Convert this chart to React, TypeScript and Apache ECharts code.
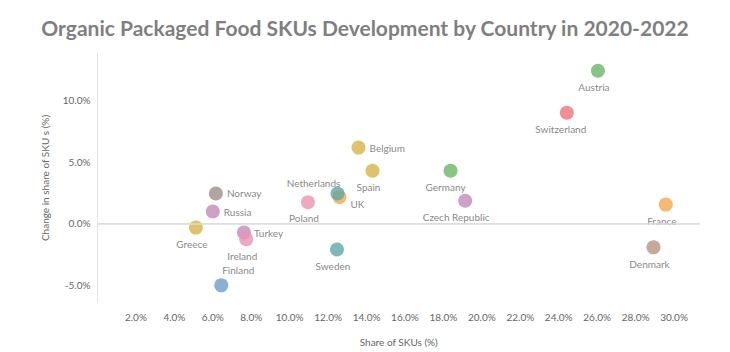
import React, { useEffect, useRef } from "react";
import * as echarts from "echarts";

const countries = ["Austria","Switzerland","Belgium","Spain","Germany","Czech Republic","France","Denmark","Norway","Russia","Greece","Turkey","Ireland","Finland","Poland","UK","Netherlands","Sweden"];
const shareOfSkus = [26.04,24.42,13.58,14.31,18.37,19.13,29.57,28.93,6.16,6.0,5.12,7.62,7.74,6.44,10.95,12.59,12.49,12.46];
const changeInShare = [12.36,8.96,6.14,4.26,4.26,1.83,1.52,-1.94,2.42,0.96,-0.34,-0.74,-1.28,-5.02,1.71,2.13,2.42,-2.12];
const colors = ["#69b863","#f07375","#d8b444","#d8b444","#69b863","#c48ab8","#f8a64f","#b89380","#9b8e8b","#c48ab8","#d8b444","#c48ab8","#ec92b2","#6d9dc9","#ec92b2","#f8a64f","#5ea9a2","#5ea9a2"];
const labelPlacement: any[] = [
  { position: "bottom", distance: 4, offset: [-4, 0] },
  { position: "bottom", distance: 4, offset: [-6, 0] },
  { position: "right", distance: 4, offset: [0, 0] },
  { position: "bottom", distance: 4, offset: [-4, 0] },
  { position: "bottom", distance: 4, offset: [-5, 0] },
  { position: "bottom", distance: 4, offset: [-9, 0] },
  { position: "bottom", distance: 4, offset: [-4, 0] },
  { position: "bottom", distance: 4, offset: [-4, 1] },
  { position: "right", distance: 4, offset: [0, 0] },
  { position: "right", distance: 4, offset: [0, 0] },
  { position: "bottom", distance: 4, offset: [-4, 0] },
  { position: "right", distance: 3, offset: [0, 0] },
  { position: "bottom", distance: 4, offset: [-4, 1] },
  { position: "top", distance: 3, offset: [17, 0] },
  { position: "bottom", distance: 4, offset: [-4, 0] },
  { position: "right", distance: 4, offset: [0, 7] },
  { position: "top", distance: 0, offset: [-24, 2] },
  { position: "bottom", distance: 4, offset: [-4, 0] },
];
const yTicks = [-5, 0, 5, 10];

export default function App() {
  const ref = useRef<HTMLDivElement>(null);
  useEffect(() => {
    const chart = echarts.init(ref.current!, null, { renderer: "svg" });
    const font = "Lato";
    const data = countries.map((c, i) => ({
      name: c,
      value: [shareOfSkus[i], changeInShare[i]],
      itemStyle: { color: colors[i] },
      label: { show: true, formatter: c, ...labelPlacement[i] },
    }));
    chart.setOption({
      animation: false,
      title: {
        text: "Organic Packaged Food SKUs Development by Country in 2020-2022",
        left: "center",
        top: 12,
        textStyle: { fontFamily: font, fontWeight: "bold", fontSize: 21, color: "#7f7f7f" },
      },
      grid: { left: 97.5, right: 30, top: 53, bottom: 45 },
      xAxis: {
        type: "value",
        min: 0,
        max: 31.35,
        interval: 2,
        name: "Share of SKUs (%)",
        nameLocation: "middle",
        nameGap: 34,
        nameTextStyle: { fontFamily: font, fontSize: 10, color: "#666" },
        axisLine: { show: true, lineStyle: { color: "#e4e4e4" } },
        axisTick: { show: false },
        splitLine: { show: false },
        axisLabel: {
          fontFamily: font,
          fontSize: 10,
          color: "#666",
          margin: 9,
          formatter: (v: number) => (v > 0 && Math.abs(v % 2) < 1e-6 ? v.toFixed(1) + "%" : ""),
        },
      },
      yAxis: {
        type: "value",
        min: -6.45,
        max: 13.8,
        name: "Change in share of SKU s (%)",
        nameLocation: "middle",
        nameRotate: 90,
        nameGap: 48,
        nameTextStyle: { fontFamily: font, fontSize: 10, color: "#666" },
        axisLine: { show: true, lineStyle: { color: "#e4e4e4" } },
        axisTick: { show: false },
        splitLine: { show: false },
        axisLabel: {
          fontFamily: font,
          fontSize: 10,
          color: "#666",
          margin: 7,
          customValues: yTicks,
          formatter: (v: number) => v.toFixed(1) + "%",
        },
      },
      series: [
        {
          type: "scatter",
          symbolSize: 14,
          data,
          label: { fontFamily: font, fontSize: 10, color: "#666" },
          markLine: {
            silent: true,
            symbol: "none",
            label: { show: false },
            lineStyle: { color: "#dcdcdc", type: "solid", width: 1.5 },
            data: [{ yAxis: 0 }],
          },
        },
      ],
    });
    return () => chart.dispose();
  }, []);
  return <div ref={ref} style={{ position: "fixed", left: 0, top: 0, width: 730, height: 352, background: "#fff" }} />;
}
